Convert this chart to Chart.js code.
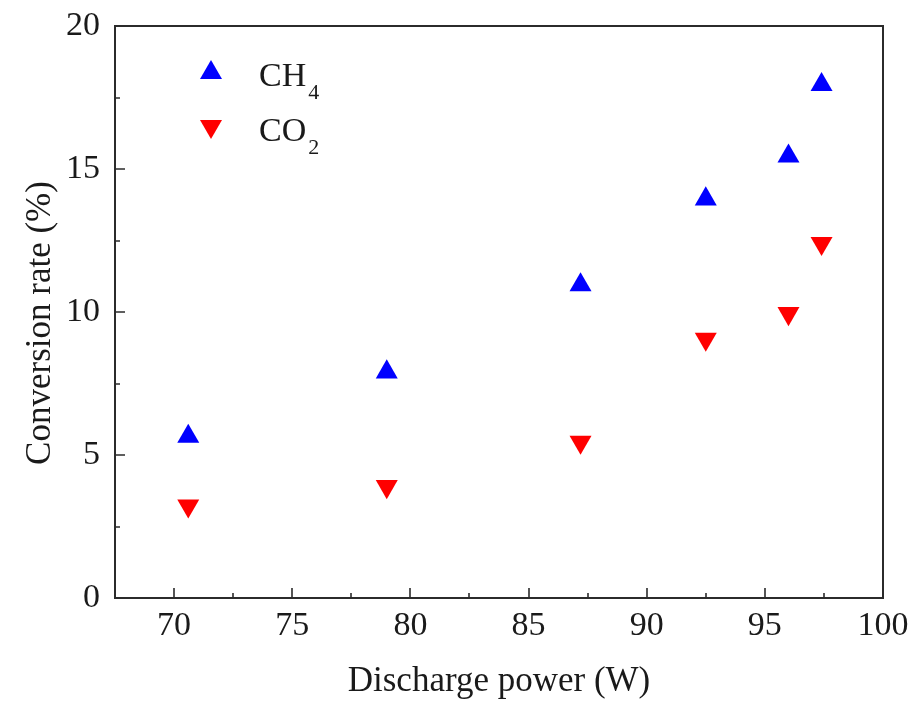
<!DOCTYPE html>
<html>
<head>
<meta charset="utf-8">
<script src="https://cdn.jsdelivr.net/npm/chart.js@4/dist/chart.umd.min.js"></script>
<style>
  html, body { margin: 0; padding: 0; background: #fff; }
  #wrap { width: 914px; height: 706px; position: relative; }
</style>
</head>
<body>
<div id="wrap"><canvas id="c" width="914" height="706"></canvas></div>
<script>
// ---- data ----
const power = [70.6, 79.0, 87.2, 92.5, 96.0, 97.4];
const ch4 = [5.65, 7.9, 10.95, 13.95, 15.45, 17.95];
const co2 = [3.22, 3.9, 5.45, 9.05, 9.95, 12.4];
const seriesNames = ['CH', 'CO'];
const seriesSubs = ['4', '2'];
const xTicks = [70, 75, 80, 85, 90, 95, 100];
const xMinorTicks = [72.5, 77.5, 82.5, 87.5, 92.5, 97.5];
const yTicks = [0, 5, 10, 15, 20];
const yMinorTicks = [2.5, 7.5, 12.5, 17.5];
const xTitle = 'Discharge power (W)';
const yTitle = 'Conversion rate (%)';

const FONT = '"Liberation Serif", "Times New Roman", serif';
const AXIS = '#2b2b2b';

const frameAndTicks = {
  id: 'frameAndTicks',
  afterDraw(chart) {
    const ctx = chart.ctx, a = chart.chartArea;
    const xs = chart.scales.x, ys = chart.scales.y;
    ctx.save();
    ctx.strokeStyle = AXIS;
    ctx.lineWidth = 2;
    // frame top and right
    ctx.beginPath();
    ctx.moveTo(a.left, a.top); ctx.lineTo(a.right, a.top); ctx.lineTo(a.right, a.bottom);
    ctx.stroke();
    ctx.lineWidth = 1.6;
    ctx.beginPath();
    xTicks.forEach(v => { const p = Math.round(xs.getPixelForValue(v)); ctx.moveTo(p, a.bottom); ctx.lineTo(p, a.bottom - 10); });
    xMinorTicks.forEach(v => { const p = Math.round(xs.getPixelForValue(v)); ctx.moveTo(p, a.bottom); ctx.lineTo(p, a.bottom - 5); });
    yTicks.forEach(v => { const p = Math.round(ys.getPixelForValue(v)); ctx.moveTo(a.left, p); ctx.lineTo(a.left + 10, p); });
    yMinorTicks.forEach(v => { const p = Math.round(ys.getPixelForValue(v)); ctx.moveTo(a.left, p); ctx.lineTo(a.left + 5, p); });
    ctx.stroke();

    // y title
    ctx.fillStyle = '#1a1a1a';
    ctx.font = '35px ' + FONT;
    ctx.textAlign = 'center';
    ctx.textBaseline = 'middle';
    ctx.translate(41, 323);
    ctx.rotate(-Math.PI / 2);
    ctx.fillText(yTitle, 0, 0);
    ctx.restore();

    // legend
    ctx.save();
    const r = 12.7;
    const rows = [
      { cy: 72.7, up: true, color: '#0000ff', base: 86, subBase: 99 },
      { cy: 126.3, up: false, color: '#ff0000', base: 141, subBase: 154 }
    ];
    rows.forEach((row, i) => {
      const cx = 211;
      ctx.fillStyle = row.color;
      ctx.beginPath();
      const s = row.up ? -1 : 1;
      ctx.moveTo(cx, row.cy + s * r);
      ctx.lineTo(cx - r * Math.sin(Math.PI / 3), row.cy - s * r / 2);
      ctx.lineTo(cx + r * Math.sin(Math.PI / 3), row.cy - s * r / 2);
      ctx.closePath();
      ctx.fill();
      ctx.fillStyle = '#1a1a1a';
      ctx.textAlign = 'left';
      ctx.textBaseline = 'alphabetic';
      ctx.font = '34px ' + FONT;
      ctx.fillText(seriesNames[i], 259, row.base);
      const w = ctx.measureText(seriesNames[i]).width;
      ctx.font = '22px ' + FONT;
      ctx.fillText(seriesSubs[i], 259 + w + 2, row.subBase);
    });
    ctx.restore();
  }
};

new Chart(document.getElementById('c'), {
  type: 'scatter',
  data: {
    datasets: [
      {
        label: 'CH4',
        data: power.map((x, i) => ({ x, y: ch4[i] })),
        pointStyle: 'triangle',
        pointRadius: 12.7,
        pointBorderWidth: 0,
        backgroundColor: '#0000ff',
        borderColor: '#0000ff'
      },
      {
        label: 'CO2',
        data: power.map((x, i) => ({ x, y: co2[i] })),
        pointStyle: 'triangle',
        pointRotation: 180,
        pointRadius: 12.7,
        pointBorderWidth: 0,
        backgroundColor: '#ff0000',
        borderColor: '#ff0000'
      }
    ]
  },
  options: {
    responsive: false,
    animation: false,
    events: [],
    layout: { padding: { left: 0, right: 31, top: 26, bottom: 0 } },
    plugins: { legend: { display: false }, tooltip: { enabled: false } },
    scales: {
      x: {
        type: 'linear',
        min: 67.5,
        max: 100,
        afterBuildTicks: s => { s.ticks = xTicks.map(v => ({ value: v })); },
        afterFit: s => { s.height = 108; s.paddingLeft = 0; s.paddingRight = 0; },
        grid: { display: false, drawTicks: false },
        border: { display: true, color: AXIS, width: 2 },
        ticks: { color: '#1a1a1a', font: { family: FONT, size: 34 }, padding: 8, maxRotation: 0, autoSkip: false },
        title: { display: true, text: xTitle, color: '#1a1a1a', font: { family: FONT, size: 35 }, padding: { top: 0, bottom: 3 } }
      },
      y: {
        type: 'linear',
        min: 0,
        max: 20,
        afterBuildTicks: s => { s.ticks = yTicks.map(v => ({ value: v })); },
        afterFit: s => { s.width = 115; s.paddingTop = 0; s.paddingBottom = 0; },
        grid: { display: false, drawTicks: false },
        border: { display: true, color: AXIS, width: 2 },
        ticks: { color: '#1a1a1a', font: { family: FONT, size: 34 }, padding: 15, autoSkip: false }
      }
    }
  },
  plugins: [frameAndTicks]
});
</script>
</body>
</html>
